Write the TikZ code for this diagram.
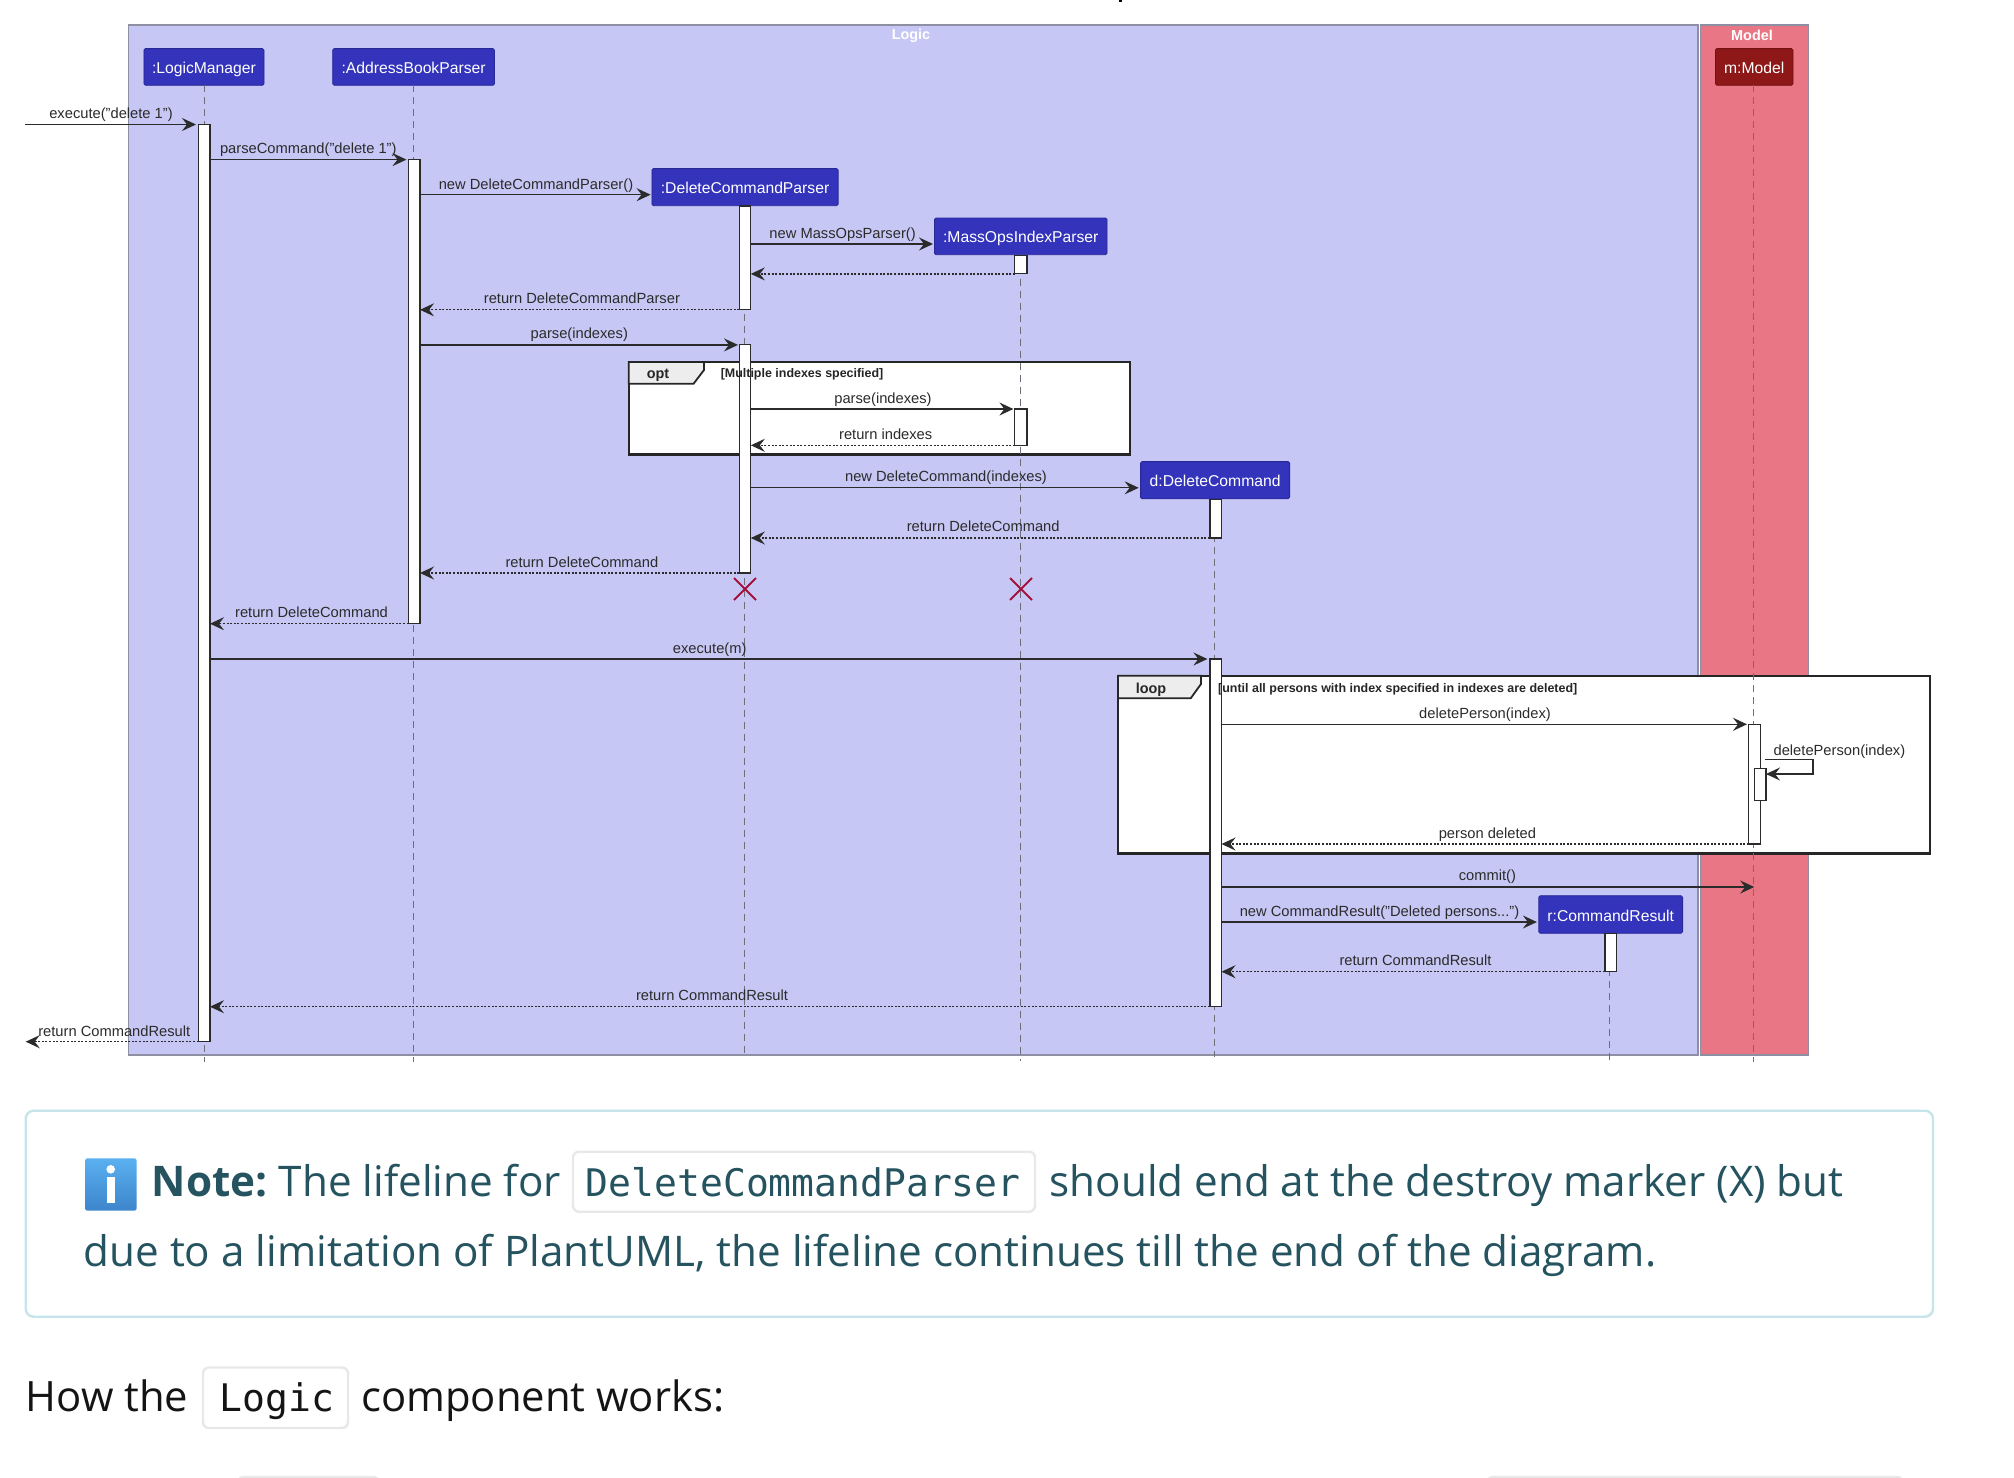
\documentclass[tikz,border=0pt]{standalone}
\usepackage{fontspec}
\usetikzlibrary{arrows.meta,shadings}
\setmainfont{Liberation Sans}
\newfontfamily\bodyfam{Open Sans}
\newfontfamily\codefam{DejaVu Sans Mono}
\definecolor{logicbg}{HTML}{C7C7F5}
\definecolor{modelbg}{HTML}{E97684}
\definecolor{bandline}{HTML}{8F8FA3}
\definecolor{actorblue}{HTML}{3333BB}
\definecolor{actorred}{HTML}{8E1717}
\definecolor{inkline}{HTML}{2B2B2B}
\definecolor{lifegrey}{HTML}{6E6E78}
\definecolor{crossred}{HTML}{A3123E}
\definecolor{noteink}{HTML}{25535F}
\definecolor{noteedge}{HTML}{C5E5EB}
\definecolor{codeedge}{HTML}{E8E8E8}
\definecolor{icontop}{HTML}{5AB0F0}
\definecolor{iconbot}{HTML}{3D85CC}
\newcommand{\msgfont}{\fontsize{14.7}{17}\selectfont}
\newcommand{\actfont}{\fontsize{15.7}{18}\selectfont}
\newcommand{\titlefont}{\fontsize{14.4}{17}\selectfont\bfseries}
\newcommand{\condfont}{\fontsize{12.45}{14}\selectfont\bfseries}
\newcommand{\bodyfont}{\bodyfam\fontsize{42.2}{50}\selectfont}
\newcommand{\closefont}{\bodyfam\fontsize{41.8}{50}\selectfont}
\newcommand{\codefont}{\codefam\fontsize{38}{46}\selectfont}
\tikzset{
  x=1pt,y=-1pt,
  band/.style={rectangle,draw=bandline,line width=1.4pt,inner sep=0pt,outer sep=0pt},
  actorbox/.style={rectangle,rounded corners=1.5pt,draw=#1!80!black,fill=#1,line width=0.8pt,inner sep=0pt,outer sep=0pt,text=white,font=\actfont,text height=16pt,text depth=3pt},
  actbar/.style={rectangle,draw=inkline,fill=white,line width=1.1pt,inner sep=0pt,outer sep=0pt},
  framebox/.style={rectangle,draw=black!85,fill=white,line width=2.4pt,inner sep=0pt,outer sep=0pt},
  tabshape/.style={draw=black!85,fill=black!7,line width=1.8pt},
  life/.style={draw=lifegrey,line width=0.9pt,dash pattern=on 7pt off 5pt},
  msg/.style={draw=inkline,line width=1.3pt,-{Stealth[length=14pt,width=13pt,inset=5pt]}},
  ret/.style={msg,dash pattern=on 2pt off 1.6pt},
  msglabel/.style={inner sep=0pt,outer sep=0pt,text=inkline,font=\msgfont,anchor=base},
  cross/.style={draw=crossred,line width=1.8pt},
  codebox/.style={rectangle,rounded corners=6pt,draw=codeedge,fill=white,line width=2.4pt,inner sep=0pt,outer sep=0pt},
}
% rectangle node from its edges: style, name, x1, x2, y1, y2, text
\newcommand{\edgebox}[7]{%
  \pgfmathsetmacro\bxc{(#3+#4)/2}\pgfmathsetmacro\byc{(#5+#6)/2}%
  \node[#1,minimum width={#4-#3},minimum height={#6-#5}] (#2) at (\bxc,\byc) {#7};}
\newcommand{\lab}[4]{\node[msglabel] (#1) at (#2,#3) {#4};}
% message at height y: style, from, to, y
\newcommand{\mess}[4]{\draw[#1] (#2 |- 0,#4) -- (#3 |- 0,#4);}
\newcommand{\lifeline}[3]{\draw[life] (#1.south -| #2,0) -- (#2,#3);}
\newcommand{\crossmark}[3]{%
  \coordinate (#1) at (#2,#3);
  \draw[cross] ([shift={(-11,-11)}]#1) -- ([shift={(11,11)}]#1);
  \draw[cross] ([shift={(-11,11)}]#1) -- ([shift={(11,-11)}]#1);}
\begin{document}
\begin{tikzpicture}
\useasboundingbox (0,0) rectangle (2014,1478);
\fill[white] (0,0) rectangle (2014,1478);
% scrap of text cut off at the top
\fill[black] (1119,0) rectangle (1122,1.6);
% bands
\edgebox{band,fill=logicbg}{logicband}{128.4}{1698}{25}{1055}{}
\edgebox{band,fill=modelbg}{modelband}{1700.6}{1808.5}{25}{1055}{}
\node[inner sep=0pt,text=white,font=\titlefont] (logictitle) at (911,35.5) {Logic};
\node[inner sep=0pt,text=white,font=\titlefont] (modeltitle) at (1752,35.5) {Model};
% frames
\edgebox{framebox}{optframe}{628.8}{1129.7}{362}{454.3}{}
\edgebox{framebox}{loopframe}{1118}{1930}{675.7}{853.3}{}
\filldraw[tabshape] (optframe.north west) -- (704,362) -- (704,370) -- (693.6,383.7) -- (628.8,383.7) -- cycle;
\filldraw[tabshape] (loopframe.north west) -- (1201,675.7) -- (1201,684) -- (1190.7,698.3) -- (1118,698.3) -- cycle;
% actors
\edgebox{actorbox=actorblue}{lm}{143.9}{264}{48.6}{85.3}{:LogicManager}
\edgebox{actorbox=actorblue}{abp}{332.7}{494.5}{48.6}{85.3}{:AddressBookParser}
\edgebox{actorbox=actorblue}{dcp}{651.9}{838.2}{168.6}{205.7}{:DeleteCommandParser}
\edgebox{actorbox=actorblue}{mop}{934.5}{1107}{218}{254.7}{:MassOpsIndexParser}
\edgebox{actorbox=actorblue}{dc}{1140.6}{1289.6}{461.6}{498.8}{d:DeleteCommand}
\edgebox{actorbox=actorred}{mdl}{1715.4}{1793}{48.6}{85.3}{m:Model}
\edgebox{actorbox=actorblue}{cr}{1538.8}{1682.6}{895.7}{933.3}{r:CommandResult}
% lifelines
\lifeline{lm}{204.2}{1061.7}
\lifeline{abp}{413}{1061.7}
\lifeline{dcp}{744.4}{1056.7}
\lifeline{mop}{1020.5}{1060.7}
\lifeline{dc}{1214.5}{1056.7}
\lifeline{mdl}{1753.3}{1061.7}
\lifeline{cr}{1609.4}{1061.7}
% activations
\edgebox{actbar}{lmA}{198.5}{210}{124.5}{1041.7}{}
\edgebox{actbar}{abpA}{408.5}{420}{159.6}{623.7}{}
\edgebox{actbar}{dcpA}{739.3}{750.8}{206}{309.8}{}
\edgebox{actbar}{dcpB}{739.3}{750.8}{344.9}{573}{}
\edgebox{actbar}{mopA}{1014.7}{1027}{255.5}{273.9}{}
\edgebox{actbar}{mopB}{1014.7}{1027}{409}{445.3}{}
\edgebox{actbar}{dcA}{1210}{1221.5}{499.6}{538}{}
\edgebox{actbar}{dcB}{1210}{1221.5}{659}{1006.7}{}
\edgebox{actbar}{mdlA}{1748.8}{1760.3}{724.3}{844}{}
\edgebox{actbar}{mdlB}{1754.6}{1766}{768.3}{800.3}{}
\edgebox{actbar}{crA}{1605}{1616.5}{933.3}{971.7}{}
% frame words, over the activation bars
\node[inner sep=0pt,font=\titlefont,text=black!85] (optword) at (658,375) {opt};
\node[inner sep=0pt,font=\titlefont,text=black!85] (loopword) at (1151,690) {loop};
\node[inner sep=0pt,anchor=west,font=\condfont,text=black!85] (optcond) at (720.6,374.2) {[Multiple indexes specified]};
\node[inner sep=0pt,anchor=west,font=\condfont,text=black!85] (loopcond) at (1218,689.2) {[until all persons with index specified in indexes are deleted]};
% free ends
\coordinate (callin) at (25,124.5);
\coordinate (callout) at (25.7,1041.7);
% messages
\mess{msg}{callin}{[xshift=-2.5pt]lmA.west}{124.5}
\mess{msg}{lmA.east}{[xshift=-2pt]abpA.west}{159.6}
\mess{msg}{abpA.east}{[xshift=-1.3pt]dcp.west}{194.7}
\mess{msg}{dcpA.east}{[xshift=-1.5pt]mop.west}{244}
\mess{ret}{mopA.west}{dcpA.east}{273.9}
\mess{ret}{dcpA.west}{abpA.east}{309.8}
\mess{msg}{abpA.east}{[xshift=-1.3pt]dcpB.west}{344.9}
\mess{msg}{dcpB.east}{[xshift=-1.3pt]mopB.west}{409}
\mess{ret}{mopB.west}{dcpB.east}{445.3}
\mess{msg}{dcpB.east}{[xshift=-1.9pt]dc.west}{487.8}
\mess{ret}{dcA.west}{dcpB.east}{538}
\mess{ret}{dcpB.west}{abpA.east}{573}
\mess{ret}{abpA.west}{lmA.east}{623.7}
\mess{msg}{lmA.east}{[xshift=-2.6pt]dcB.west}{659}
\mess{msg}{dcB.east}{[xshift=-1.8pt]mdlA.west}{724.3}
\coordinate (selfA) at (1813,759.3);
\coordinate (selfB) at (1813,774);
\draw[msg] ([xshift=-1pt]mdlB.east |- selfA) -- (selfA) -- (selfB) -- (mdlB.east |- selfB);
\mess{ret}{mdlA.west}{dcB.east}{844}
\mess{msg}{dcB.east}{mdl.south}{887}
\mess{msg}{dcB.east}{[xshift=-1.9pt]cr.west}{922}
\mess{ret}{crA.west}{dcB.east}{971.7}
\mess{ret}{dcB.west}{lmA.east}{1006.7}
\mess{ret}{lmA.west}{callout}{1041.7}
% message labels
\lab{l1}{111}{118.3}{execute("delete 1")}
\lab{l2}{308.3}{153.4}{parseCommand("delete 1")}
\lab{l3}{536}{189.6}{new DeleteCommandParser()}
\lab{l4}{842.6}{238.6}{new MassOpsParser()}
\lab{l5}{581.9}{303.6}{return DeleteCommandParser}
\lab{l6}{579.3}{338.7}{parse(indexes)}
\lab{l7}{883}{403.8}{parse(indexes)}
\lab{l8}{885.7}{439.1}{return indexes}
\lab{l9}{946}{481.6}{new DeleteCommand(indexes)}
\lab{l10}{983.2}{531.8}{return DeleteCommand}
\lab{l11}{581.9}{567.6}{return DeleteCommand}
\lab{l12}{311.5}{617.5}{return DeleteCommand}
\lab{l13}{709.7}{653.6}{execute(m)}
\lab{l14}{1485}{718.1}{deletePerson(index)}
\lab{l15}{1839.4}{755}{deletePerson(index)}
\lab{l16}{1487.4}{838.4}{person deleted}
\lab{l17}{1487.4}{880.8}{commit()}
\lab{l18}{1379.5}{916.4}{new CommandResult("Deleted persons...")}
\lab{l19}{1415.5}{965.5}{return CommandResult}
\lab{l20}{712}{1000.5}{return CommandResult}
\lab{l21}{114.3}{1036.6}{return CommandResult}
% destroy marks
\crossmark{xdcp}{745}{589}
\crossmark{xmop}{1021}{589}
% note
\edgebox{rectangle,rounded corners=8pt,draw=noteedge,fill=white,line width=2.4pt,inner sep=0pt,outer sep=0pt}{notebox}{25.7}{1933}{1110.7}{1316.7}{}
\edgebox{rectangle,rounded corners=2.5pt,top color=icontop,bottom color=iconbot,inner sep=0pt,outer sep=0pt}{infoicon}{85}{136.7}{1158.3}{1210.7}{}
\fill[white] (110.7,1169.3) circle[radius=4.3pt];
\fill[white] (106.7,1176.7) rectangle (114.7,1203.3);
\node[inner sep=0pt,anchor=base west,text=noteink,font=\bodyfont\bfseries] (noteword) at (151.6,1196.5) {Note:};
\node[inner sep=0pt,anchor=base west,text=noteink,font=\bodyfont] (notea) at (278.7,1196.5) {The lifeline for};
\edgebox{codebox}{codea}{573}{1035}{1151.7}{1211.7}{}
\node[inner sep=0pt,anchor=base west,text=noteink,font=\codefont] (codeatext) at (585.7,1196.5) {DeleteCommandParser};
\node[inner sep=0pt,anchor=base west,text=noteink,font=\bodyfont] (noteb) at (1049.4,1196.5) {should end at the destroy marker (X) but};
\node[inner sep=0pt,anchor=base west,text=noteink,font=\bodyfont] (notec) at (83.5,1266) {due to a limitation of PlantUML, the lifeline continues till the end of the diagram.};
% closing line
\node[inner sep=0pt,anchor=base west,text=black!92,font=\closefont] (howa) at (25.7,1411.7) {How the};
\edgebox{codebox}{codeb}{203}{348}{1367.5}{1428}{}
\node[inner sep=0pt,anchor=base west,text=black!92,font=\codefont] (codebtext) at (219.6,1411.7) {Logic};
\node[inner sep=0pt,anchor=base west,text=black!92,font=\closefont] (howb) at (361,1411.7) {component works:};
% tops of the boxes of the next, cut-off line
\edgebox{codebox}{codec}{237.6}{379}{1477}{1520}{}
\edgebox{codebox}{coded}{1487}{1903}{1477}{1520}{}
\end{tikzpicture}
\end{document}
